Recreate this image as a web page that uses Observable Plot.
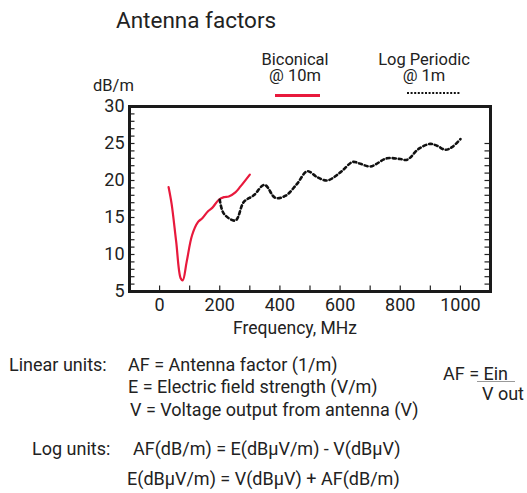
<!DOCTYPE html>
<html>
<head>
<meta charset="utf-8">
<script src="https://cdn.jsdelivr.net/npm/d3@7"></script>
<script src="https://cdn.jsdelivr.net/npm/@observablehq/plot@0.6"></script>
<style>
  html, body { margin: 0; padding: 0; background: #fff; }
  #wrap { position: relative; width: 527px; height: 493px; overflow: hidden; font-family: Roboto, "Noto Sans", sans-serif; color: #222; }
  #wrap .t { position: absolute; line-height: 1; white-space: nowrap; }
  #chart { position: absolute; left: 0; top: 0; }
  .c { transform: translateX(-50%); text-align: center; }
</style>
</head>
<body>
<div id="wrap">
  <div id="chart"></div>
  <div class="t" style="left:116px; top:9px; font-size:22.5px;">Antenna factors</div>
  <div class="t" style="left:93px; top:78px; font-size:16.5px;">dB/m</div>
  <div class="t c" style="left:295px; top:52px; font-size:16.5px; line-height:15.5px;">Biconical<br>@ 10m</div>
  <div class="t c" style="left:424px; top:52px; font-size:16.5px; line-height:15.5px;">Log Periodic<br>@ 1m</div>
  <div id="legRed" style="position:absolute; left:275px; top:94px; width:45px; height:2.5px;"></div>
  <svg id="legDot" style="position:absolute; left:407px; top:91px;" width="54" height="4"><line x1="0" y1="2" x2="54" y2="2" stroke="#111" stroke-width="2.2" stroke-dasharray="2,1.6"/></svg>
  <div class="t c" style="left:295px; top:320px; font-size:17.5px;">Frequency, MHz</div>

  <div class="t" style="left:9px; top:356px; font-size:18px;">Linear units:</div>
  <div class="t" style="left:128px; top:356px; font-size:18px;">AF = Antenna factor (1/m)</div>
  <div class="t" style="left:128px; top:378px; font-size:18px;">E = Electric field strength (V/m)</div>
  <div class="t" style="left:130px; top:401px; font-size:18px;">V = Voltage output from antenna (V)</div>
  <div class="t" style="left:443px; top:365px; font-size:18px;">AF = Ein</div>
  <div style="position:absolute; left:477px; top:381px; width:38px; height:1px; background:#999;"></div>
  <div class="t" style="left:482px; top:385px; font-size:18px;">V out</div>
  <div class="t" style="left:32px; top:440px; font-size:18px;">Log units:</div>
  <div class="t" style="left:133px; top:440px; font-size:18px;">AF(dB/m) = E(dBμV/m) - V(dBμV)</div>
  <div class="t" style="left:127px; top:470px; font-size:18px;">E(dBμV/m) = V(dBμV) + AF(dB/m)</div>
</div>
<script>
// Biconical @ 10m
const biconicalFreq = [30, 40, 55, 70, 77, 90, 108, 128, 142, 161, 175, 197, 214, 230, 252, 269, 300];
const biconicalAF   = [19.1, 16.85, 11.8, 6.8, 6.5, 9.0, 12.6, 14.4, 14.9, 15.85, 16.3, 17.4, 17.75, 17.85, 18.4, 19.2, 20.8];
// Log Periodic @ 1m
const logPerFreq = [200, 214, 252, 280, 313, 349, 385, 419, 457, 491, 524, 557, 601, 642, 668, 701, 756, 800, 823, 862, 900, 922, 950, 972, 1000];
const logPerAF   = [17.4, 15.5, 14.6, 17.1, 18.0, 19.4, 17.65, 17.95, 19.55, 21.25, 20.45, 20.0, 21.1, 22.5, 22.25, 21.9, 23.0, 22.9, 22.8, 24.3, 24.95, 24.7, 24.15, 24.5, 25.6];
// Axes
const xTickLabels = [0, 200, 400, 600, 800, 1000];
const xMinorTicks = [0, 100, 200, 300, 400, 500, 600, 700, 800, 900, 1000];
const yTickLabels = [5, 10, 15, 20, 25, 30];
const yMinorLeft  = d3.range(5, 31);
const yMinorRight = d3.range(6, 26);

const RED = "#e8193c";
document.getElementById("legRed").style.background = RED;

const bico = biconicalFreq.map((f, i) => ({f, v: biconicalAF[i]}));
const logp = logPerFreq.map((f, i) => ({f, v: logPerAF[i]}));

const W = 527, H = 345, ML = 129, MR = 37, MT = 106, MB = 54;
const FW = W - ML - MR, FH = H - MT - MB;
const TL = 5.5; // inward tick length (includes half the frame stroke)
const chart = Plot.plot({
  width: W,
  height: H,
  marginLeft: ML,
  marginRight: MR,
  marginTop: MT,
  marginBottom: MB,
  x: {domain: [-100, 1100]},
  y: {domain: [5, 30]},
  style: {fontFamily: "Roboto, sans-serif", fontSize: "18px", color: "#222", background: "transparent"},
  marks: [
    Plot.tickY(yMinorLeft, {y: d => d, insetRight: FW - TL, stroke: "#222", strokeWidth: 1.2}),
    Plot.tickY(yMinorRight, {y: d => d, insetLeft: FW - TL, stroke: "#222", strokeWidth: 1.2}),
    Plot.tickX(xMinorTicks, {x: d => d, insetTop: FH - TL, stroke: "#222", strokeWidth: 1.2}),
    Plot.axisY({ticks: yTickLabels, anchor: "left", tickSize: 0, tickPadding: 5, label: null, fontSize: 18}),
    Plot.axisX({ticks: xTickLabels, anchor: "bottom", tickSize: 0, tickPadding: 7, label: null, fontSize: 18, tickFormat: d => String(d)}),
    Plot.line(bico, {x: "f", y: "v", stroke: RED, strokeWidth: 2.2, curve: "catmull-rom"}),
    Plot.line(logp, {x: "f", y: "v", stroke: "#111", strokeWidth: 2.6, strokeDasharray: "3,3", curve: "catmull-rom"}),
    Plot.frame({stroke: "#1a1a1a", strokeWidth: 3})
  ]
});
document.getElementById("chart").appendChild(chart);
</script>
</body>
</html>
